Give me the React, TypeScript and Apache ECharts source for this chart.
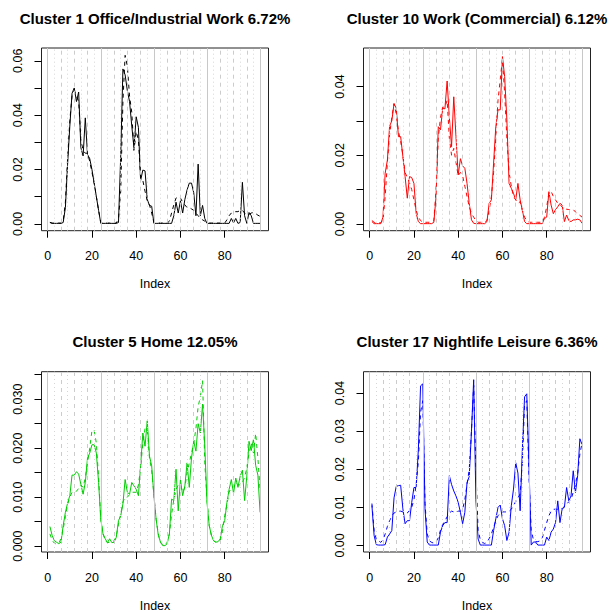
import React, { useEffect, useRef } from "react";
import * as echarts from "echarts";

const INDEX: number[] = Array.from({ length: 96 }, (_, i) => i + 1);
const X_TICKS = [0, 20, 40, 60, 80];
const GRID_LINES: number[] = Array.from({ length: 33 }, (_, i) => i * 3);

const TITLES = [
  "Cluster 1 Office/Industrial Work 6.72%",
  "Cluster 10 Work (Commercial) 6.12%",
  "Cluster 5 Home 12.05%",
  "Cluster 17 Nightlife Leisure 6.36%",
];

const c1Solid = [
  0.0006, 0.0002, 0.0002, 0.0002, 0.0002, 0.0002, 0.0005, 0.006, 0.022, 0.036, 0.048, 0.05,
  0.045, 0.0485, 0.028, 0.025, 0.039, 0.0255, 0.024, 0.02, 0.015, 0.01, 0.005, 0.0002,
  0.0002, 0.0002, 0.0002, 0.0002, 0.0002, 0.0002, 0.0002, 0.0005, 0.025, 0.057, 0.0548, 0.049,
  0.045, 0.036, 0.028, 0.0394, 0.0355, 0.016, 0.0198, 0.0195, 0.009, 0.0068, 0.0065, 0.0002,
  0.0002, 0.0002, 0.0002, 0.0002, 0.0002, 0.0002, 0.0002, 0.0002, 0.003, 0.008, 0.004, 0.0085,
  0.004, 0.009, 0.0125, 0.015, 0.015, 0.0115, 0.003, 0.022, 0.003, 0.0068, 0.002, 0.0002,
  0.0002, 0.0002, 0.0002, 0.0002, 0.0002, 0.0002, 0.0002, 0.0002, 0.0002, 0.0002, 0.002, 0.0004,
  0.002, 0.0002, 0.0005, 0.0153, 0.003, 0.0002, 0.0042, 0.003, 0.0002, 0.0002, 0.0002, 0.0002,
];
const c1Dashed = [
  0.0005, 0.0003, 0.0003, 0.0003, 0.0003, 0.0003, 0.001, 0.008, 0.024, 0.038, 0.047, 0.049,
  0.047, 0.045, 0.031, 0.027, 0.026, 0.026, 0.023, 0.019, 0.015, 0.01, 0.005, 0.0006,
  0.0003, 0.0003, 0.0003, 0.0003, 0.0003, 0.0003, 0.0003, 0.002, 0.012, 0.045, 0.062, 0.058,
  0.047, 0.041, 0.027, 0.034, 0.031, 0.017, 0.016, 0.012, 0.0085, 0.007, 0.004, 0.0005,
  0.0003, 0.0003, 0.0003, 0.0003, 0.0003, 0.0003, 0.001, 0.004, 0.007, 0.0095, 0.01, 0.0095,
  0.008, 0.007, 0.006, 0.006, 0.0055, 0.005, 0.004, 0.003, 0.002, 0.0015, 0.001, 0.0005,
  0.0003, 0.0003, 0.0003, 0.0003, 0.0003, 0.0003, 0.0003, 0.0003, 0.0015, 0.003, 0.004, 0.0045,
  0.0045, 0.0045, 0.005, 0.005, 0.004, 0.0035, 0.0035, 0.004, 0.0042, 0.0038, 0.0032, 0.0028,
];
const c10Solid = [
  0.0007, 0.0001, 0.0001, 0.0001, 0.0001, 0.002, 0.0148, 0.0186, 0.0285, 0.03, 0.035, 0.0337,
  0.0254, 0.0254, 0.0196, 0.0138, 0.0075, 0.0138, 0.0135, 0.0118, 0.0031, 0.0007, 0.0001, 0.0001,
  0.0001, 0.0001, 0.0001, 0.0001, 0.0005, 0.008, 0.0283, 0.0274, 0.0337, 0.0335, 0.0416, 0.031,
  0.0225, 0.037, 0.0254, 0.0143, 0.019, 0.0169, 0.0162, 0.0118, 0.006, 0.0012, 0.0002, 0.0001,
  0.0001, 0.0001, 0.0001, 0.0001, 0.0007, 0.006, 0.007, 0.0177, 0.0283, 0.0332, 0.0332, 0.0487,
  0.0429, 0.0303, 0.0118, 0.0104, 0.0089, 0.007, 0.0118, 0.007, 0.004, 0.0007, 0.0001, 0.0001,
  0.0001, 0.0001, 0.0001, 0.0001, 0.0001, 0.0001, 0.0016, 0.002, 0.0094, 0.0055, 0.003, 0.0042,
  0.005, 0.006, 0.0055, 0.0007, 0.0026, 0.001, 0.0007, 0.0012, 0.0012, 0.0014, 0.0012, 0.0002,
];
const c10Dashed = [
  0.001, 0.0005, 0.0003, 0.0003, 0.0004, 0.001, 0.008, 0.018, 0.026, 0.031, 0.035, 0.032,
  0.027, 0.024, 0.02, 0.015, 0.0135, 0.012, 0.01, 0.007, 0.004, 0.002, 0.001, 0.0005,
  0.0005, 0.0005, 0.0005, 0.0005, 0.001, 0.01, 0.025, 0.031, 0.034, 0.034, 0.036, 0.025,
  0.02, 0.022, 0.018, 0.014, 0.015, 0.014, 0.011, 0.008, 0.005, 0.003, 0.002, 0.001,
  0.0005, 0.0005, 0.0005, 0.0005, 0.001, 0.004, 0.008, 0.015, 0.025, 0.036, 0.042, 0.048,
  0.038, 0.025, 0.015, 0.011, 0.008, 0.007, 0.006, 0.0065, 0.004, 0.002, 0.001, 0.0005,
  0.0005, 0.0005, 0.0005, 0.0005, 0.0005, 0.0005, 0.002, 0.005, 0.009, 0.0095, 0.008, 0.007,
  0.006, 0.0055, 0.005, 0.004, 0.0043, 0.0042, 0.004, 0.0042, 0.0035, 0.003, 0.0025, 0.002,
];
const c5Solid = [
  0.004, 0.0022, 0.0011, 0.0008, 0.0005, 0.0008, 0.0042, 0.0069, 0.0088, 0.0103, 0.0145, 0.0145,
  0.0152, 0.0147, 0.0126, 0.0106, 0.013, 0.018, 0.019, 0.0207, 0.0207, 0.019, 0.013, 0.0055,
  0.0025, 0.0015, 0.0007, 0.0015, 0.0007, 0.0008, 0.0018, 0.0052, 0.0062, 0.0086, 0.0136, 0.011,
  0.0106, 0.013, 0.0123, 0.0116, 0.0103, 0.0164, 0.0231, 0.0204, 0.0256, 0.0184, 0.0164, 0.0103,
  0.0055, 0.0022, 0.0008, 0.0001, 0.0001, 0.0005, 0.0025, 0.0096, 0.0093, 0.0157, 0.0072, 0.0136,
  0.0103, 0.0123, 0.017, 0.012, 0.018, 0.0214, 0.0194, 0.025, 0.0231, 0.029, 0.0205, 0.009,
  0.0042, 0.0022, 0.0011, 0.0008, 0.0009, 0.0015, 0.0042, 0.0052, 0.0089, 0.0116, 0.0136, 0.0108,
  0.0139, 0.012, 0.0143, 0.0155, 0.0093, 0.0143, 0.0214, 0.0195, 0.0218, 0.0165, 0.0145, 0.0069,
];
const c5Dashed = [
  0.0025, 0.0012, 0.0006, 0.0004, 0.0006, 0.0015, 0.0035, 0.006, 0.0085, 0.01, 0.011, 0.011,
  0.0112, 0.0118, 0.0125, 0.012, 0.014, 0.017, 0.02, 0.0236, 0.0237, 0.021, 0.014, 0.0055,
  0.0025, 0.0012, 0.0007, 0.0008, 0.0008, 0.0011, 0.002, 0.0045, 0.0065, 0.009, 0.01, 0.01,
  0.0105, 0.011, 0.011, 0.011, 0.0125, 0.016, 0.021, 0.024, 0.024, 0.018, 0.0155, 0.0105,
  0.0055, 0.0025, 0.0008, 0.0003, 0.0002, 0.0008, 0.0025, 0.0065, 0.0095, 0.0115, 0.0125, 0.0125,
  0.011, 0.012, 0.015, 0.017, 0.019, 0.021, 0.024, 0.0285, 0.0305, 0.0338, 0.017, 0.0095,
  0.0042, 0.0022, 0.0011, 0.0008, 0.0009, 0.0012, 0.003, 0.0062, 0.0085, 0.011, 0.012, 0.012,
  0.013, 0.0125, 0.0125, 0.013, 0.014, 0.016, 0.019, 0.021, 0.019, 0.023, 0.018, 0.0115,
];
const c17Solid = [
  0.0105, 0.0026, 0.0002, 0.0001, 0.0001, 0.0001, 0.0002, 0.0022, 0.003, 0.0039, 0.0125, 0.0155,
  0.0157, 0.0158, 0.0096, 0.0057, 0.0065, 0.0065, 0.0113, 0.0152, 0.0152, 0.0252, 0.0419, 0.0424,
  0.0096, 0.0009, 0.0001, 0.0001, 0.0001, 0.0001, 0.0001, 0.0035, 0.0052, 0.006, 0.006, 0.0183,
  0.016, 0.0143, 0.013, 0.0113, 0.0087, 0.0057, 0.0087, 0.0165, 0.0181, 0.03, 0.0435, 0.012,
  0.0017, 0.0001, 0.0001, 0.0001, 0.0001, 0.0001, 0.0001, 0.0039, 0.007, 0.01, 0.0106, 0.007,
  0.0052, 0.0013, 0.0035, 0.0104, 0.0148, 0.0217, 0.019, 0.0091, 0.0252, 0.039, 0.0398, 0.0209,
  0.0001, 0.0009, 0.0009, 0.0001, 0.0001, 0.0001, 0.0001, 0.0022, 0.0013, 0.0035, 0.0043, 0.006,
  0.0117, 0.006, 0.0096, 0.01, 0.0152, 0.0117, 0.013, 0.0196, 0.0139, 0.0183, 0.028, 0.0265,
];
const c17Dashed = [
  0.011, 0.004, 0.0015, 0.0012, 0.0008, 0.0015, 0.003, 0.005, 0.0065, 0.0078, 0.0085, 0.0088,
  0.009, 0.009, 0.0088, 0.0087, 0.0085, 0.0092, 0.01, 0.012, 0.016, 0.022, 0.035, 0.038,
  0.011, 0.003, 0.0012, 0.0008, 0.0006, 0.001, 0.002, 0.004, 0.0055, 0.0065, 0.0075, 0.0085,
  0.009, 0.0088, 0.0088, 0.009, 0.009, 0.0095, 0.012, 0.016, 0.02, 0.03, 0.042, 0.02,
  0.004, 0.0015, 0.0008, 0.0005, 0.0008, 0.0018, 0.003, 0.0048, 0.0065, 0.0078, 0.0085, 0.0088,
  0.0088, 0.0088, 0.009, 0.0095, 0.0105, 0.0115, 0.0125, 0.0135, 0.022, 0.037, 0.038, 0.018,
  0.004, 0.0015, 0.001, 0.001, 0.0012, 0.002, 0.004, 0.006, 0.0078, 0.009, 0.0095, 0.0095,
  0.0095, 0.0095, 0.0098, 0.0102, 0.0108, 0.0115, 0.012, 0.014, 0.016, 0.019, 0.024, 0.027,
];

const Y_TICKS_1 = [0, 0.01, 0.02, 0.03, 0.04, 0.05, 0.06];
const Y_LABELS_1 = [0, 0.02, 0.04, 0.06];
const Y_TICKS_2 = [0, 0.01, 0.02, 0.03, 0.04];
const Y_LABELS_2 = [0, 0.02, 0.04];
const Y_TICKS_3 = [0, 0.005, 0.01, 0.015, 0.02, 0.025, 0.03, 0.035];
const Y_LABELS_3 = [0, 0.01, 0.02, 0.03];
const Y_TICKS_4 = [0, 0.01, 0.02, 0.03, 0.04];
const Y_LABELS_4 = [0, 0.01, 0.02, 0.03, 0.04];

const FONT = "'Liberation Sans', Arial, Helvetica, sans-serif";

const PANELS = [
  { title: TITLES[0], solid: c1Solid, dashed: c1Dashed, color: "#000000", yMin: -0.0025, yMax: 0.0647, ticks: Y_TICKS_1, labels: Y_LABELS_1, digits: 2, left: 41.5, top: 48 },
  { title: TITLES[1], solid: c10Solid, dashed: c10Dashed, color: "#ff0000", yMin: -0.00195, yMax: 0.0512, ticks: Y_TICKS_2, labels: Y_LABELS_2, digits: 2, left: 363.5, top: 48 },
  { title: TITLES[2], solid: c5Solid, dashed: c5Dashed, color: "#00cd00", yMin: -0.0012, yMax: 0.03562, ticks: Y_TICKS_3, labels: Y_LABELS_3, digits: 3, left: 41.5, top: 371.7 },
  { title: TITLES[3], solid: c17Solid, dashed: c17Dashed, color: "#0000ff", yMin: -0.00172, yMax: 0.0456, ticks: Y_TICKS_4, labels: Y_LABELS_4, digits: 2, left: 363.5, top: 371.7 },
];

const W = 227;
const H = 182.7;

export default function App() {
  const ref = useRef<HTMLDivElement>(null);
  useEffect(() => {
    const chart = echarts.init(ref.current!, null, { renderer: "svg" });
    const grid: any[] = [];
    const xAxis: any[] = [];
    const yAxis: any[] = [];
    const series: any[] = [];
    const title: any[] = [];
    PANELS.forEach((p, k) => {
      grid.push({ left: p.left, top: p.top, width: W, height: H, show: true, borderColor: "#222", borderWidth: 1, backgroundColor: "transparent" });
      title.push({
        text: p.title, left: p.left + W / 2, top: p.top - 37.5, textAlign: "center", padding: 0,
        textStyle: { fontFamily: FONT, fontSize: 15, fontWeight: "bold", color: "#000" },
      });
      xAxis.push({
        gridIndex: k, type: "value", min: -2.8, max: 99.8,
        axisLine: { show: false, onZero: false },
        splitLine: { show: false },
        axisTick: { show: true, customValues: X_TICKS, length: 7, lineStyle: { color: "#000", width: 1 } },
        axisLabel: { customValues: X_TICKS, margin: 19, color: "#000", fontSize: 12.5, fontFamily: FONT },
        name: "Index", nameLocation: "middle", nameGap: 47,
        nameTextStyle: { color: "#000", fontSize: 12.5, fontFamily: FONT },
      });
      yAxis.push({
        gridIndex: k, type: "value", min: p.yMin, max: p.yMax,
        axisLine: { show: false, onZero: false },
        splitLine: { show: false },
        axisTick: { show: true, customValues: p.ticks, length: 7, lineStyle: { color: "#000", width: 1 } },
        axisLabel: {
          customValues: p.labels, rotate: 90, margin: 17, color: "#000", fontSize: 12.5, fontFamily: FONT,
          formatter: (v: number) => v.toFixed(p.digits),
        },
      });
      series.push({
        type: "line", xAxisIndex: k, yAxisIndex: k, data: [], silent: true, z: 1,
        markLine: {
          silent: true, symbol: ["none", "none"], label: { show: false }, animation: false,
          data: GRID_LINES.map((v) => ({
            xAxis: v,
            lineStyle: v % 24 === 0
              ? { color: "#c8c8c8", type: "solid", width: 1 }
              : v % 6 === 0
              ? { color: "#cccccc", type: [4, 4], width: 1 }
              : { color: "#d6d6d6", type: [1, 3], width: 1 },
          })),
        },
      });
      series.push({
        type: "line", xAxisIndex: k, yAxisIndex: k, z: 3, symbol: "none", showSymbol: false,
        data: INDEX.map((x, i) => [x, p.solid[i]]),
        lineStyle: { color: p.color, width: 1 },
      });
      series.push({
        type: "line", xAxisIndex: k, yAxisIndex: k, z: 3, symbol: "none", showSymbol: false,
        data: INDEX.map((x, i) => [x, p.dashed[i]]),
        lineStyle: { color: p.color, width: 1, type: [4, 4] },
      });
    });
    chart.setOption({ animation: false, backgroundColor: "#fff", title, grid, xAxis, yAxis, series });
    return () => chart.dispose();
  }, []);
  return <div ref={ref} style={{ position: "absolute", left: 0, top: 0, width: 616, height: 613 }} />;
}
